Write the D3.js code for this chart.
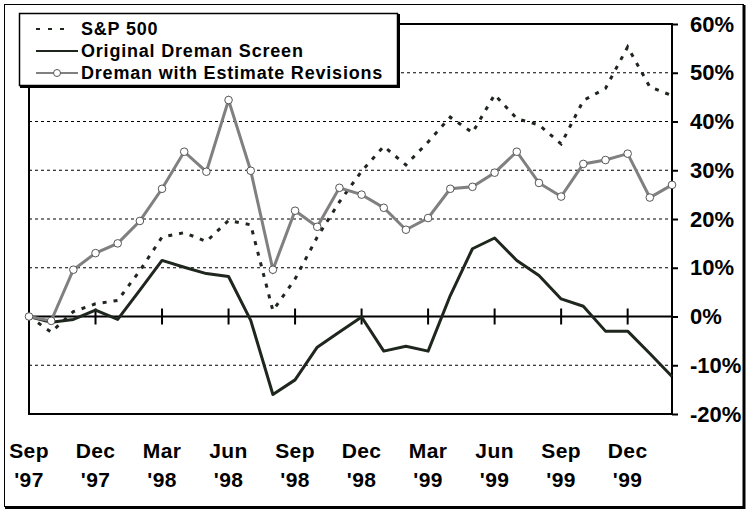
<!DOCTYPE html>
<html>
<head>
<meta charset="utf-8">
<script src="https://cdn.jsdelivr.net/npm/d3@7"></script>
<style>
  body { margin: 0; background: #fff; }
  svg { display: block; font-family: "Liberation Sans", Arial, sans-serif; font-weight: bold; }
</style>
</head>
<body>
<div id="chart"></div>
<script>
// monthly cumulative returns (%), Sep '97 .. Feb '00
var spValues = [0, -3.2, 1.0, 2.6, 3.3, 9.4, 16.3, 17.2, 15.4, 19.7, 18.8, 1.2, 7.7, 16.3, 23.5,
  29.8, 34.9, 31.1, 35.8, 40.9, 37.7, 45.5, 40.6, 39.3, 35.4, 44.3, 46.8, 55.3, 47.1, 45.3];
var originalValues = [0, -1.2, -0.6, 1.3, -0.6, 5.4, 11.5, 10.1, 8.8, 8.2, -0.8, -16.0, -13.0, -6.3, -3.2,
  -0.1, -7.1, -6.1, -7.1, 4.3, 13.9, 16.1, 11.5, 8.4, 3.6, 2.1, -3.0, -3.0, -7.6, -12.3];
var revisionValues = [0, -0.9, 9.6, 13.0, 15.0, 19.6, 26.2, 33.8, 29.7, 44.4, 29.9, 9.6, 21.7, 18.4, 26.4,
  25.0, 22.3, 17.8, 20.2, 26.2, 26.6, 29.5, 33.8, 27.4, 24.6, 31.3, 32.1, 33.4, 24.4, 27.0];

// quarter ticks: month index, month name, year
var tickIndex = [0, 3, 6, 9, 12, 15, 18, 21, 24, 27];
var tickMonths = ["Sep", "Dec", "Mar", "Jun", "Sep", "Dec", "Mar", "Jun", "Sep", "Dec"];
var tickYears = ["'97", "'97", "'98", "'98", "'98", "'98", "'99", "'99", "'99", "'99"];
var yTicks = [-20, -10, 0, 10, 20, 30, 40, 50, 60];
var seriesNames = ["S&P 500", "Original Dreman Screen", "Dreman with Estimate Revisions"];

var width = 750, height = 513;
var plotLeft = 29, plotRight = 672, plotTop = 24, plotBottom = 414;
var darkLine = "#1e261e", grayLine = "#808080";

var svg = d3.select("#chart").append("svg")
  .attr("width", width)
  .attr("height", height);

// outer frame with a heavier right/bottom edge
svg.append("rect")
  .attr("x", 4.5).attr("y", 4.5)
  .attr("width", 739).attr("height", 502)
  .attr("fill", "#fff").attr("stroke", "#000").attr("stroke-width", 1);
svg.append("path")
  .attr("d", "M744,5 V507.5 H5")
  .attr("fill", "none").attr("stroke", "#000").attr("stroke-width", 3);

var x = d3.scaleLinear().domain([0, spValues.length - 1]).range([plotLeft, plotRight]);
var y = d3.scaleLinear().domain([-20, 60]).range([plotBottom, plotTop]);

// dashed gridlines
svg.selectAll(".grid")
  .data(yTicks.filter(function(d) { return d > -20 && d < 60 && d != 0; }))
  .enter().append("line")
  .attr("x1", plotLeft).attr("x2", plotRight)
  .attr("y1", function(d) { return y(d); })
  .attr("y2", function(d) { return y(d); })
  .attr("stroke", "#000").attr("stroke-width", 1)
  .attr("stroke-dasharray", "3,3");

// plot frame
svg.append("rect")
  .attr("x", plotLeft).attr("y", plotTop)
  .attr("width", plotRight - plotLeft).attr("height", plotBottom - plotTop)
  .attr("fill", "none").attr("stroke", "#000").attr("stroke-width", 2);

// right axis with outward ticks
var yAxis = d3.axisRight(y)
  .tickValues(yTicks)
  .tickSize(6)
  .tickPadding(12)
  .tickFormat(function(d) { return d + "%"; });
var ya = svg.append("g")
  .attr("transform", "translate(" + plotRight + ",0)")
  .call(yAxis);
ya.select(".domain").remove();
ya.selectAll(".tick line").attr("stroke", "#000").attr("stroke-width", 2);
ya.selectAll(".tick text")
  .attr("fill", "#000")
  .style("font-size", "22px")
  .style("font-weight", "bold")
  .style("font-family", "'Liberation Sans', Arial, sans-serif");

// zero line with quarter ticks
svg.append("line")
  .attr("x1", plotLeft).attr("x2", plotRight)
  .attr("y1", y(0)).attr("y2", y(0))
  .attr("stroke", "#000").attr("stroke-width", 2);
svg.selectAll(".qtick")
  .data(tickIndex.slice(1))
  .enter().append("line")
  .attr("x1", function(d) { return x(d); })
  .attr("x2", function(d) { return x(d); })
  .attr("y1", y(0) - 8).attr("y2", y(0) + 8)
  .attr("stroke", "#000").attr("stroke-width", 2);

// x labels, two lines each
var xl = svg.selectAll(".xlab")
  .data(tickIndex)
  .enter().append("text")
  .attr("text-anchor", "middle")
  .style("font-size", "21px")
  .style("letter-spacing", "0.4px");
xl.append("tspan")
  .attr("x", function(d) { return x(d); })
  .attr("y", 458)
  .text(function(d, i) { return tickMonths[i]; });
xl.append("tspan")
  .attr("x", function(d) { return x(d); })
  .attr("y", 487)
  .text(function(d, i) { return tickYears[i]; });

var line = d3.line()
  .x(function(d, i) { return x(i); })
  .y(function(d) { return y(d); });

// S&P 500 dashed
svg.append("path")
  .datum(spValues)
  .attr("d", line)
  .attr("fill", "none")
  .attr("stroke", darkLine)
  .attr("stroke-width", 3)
  .attr("stroke-dasharray", "4,7");

// original screen
svg.append("path")
  .datum(originalValues)
  .attr("d", line)
  .attr("fill", "none")
  .attr("stroke", darkLine)
  .attr("stroke-width", 3)
  .attr("stroke-linejoin", "round");

// with estimate revisions
svg.append("path")
  .datum(revisionValues)
  .attr("d", line)
  .attr("fill", "none")
  .attr("stroke", grayLine)
  .attr("stroke-width", 3);
svg.selectAll(".marker")
  .data(revisionValues)
  .enter().append("circle")
  .attr("cx", function(d, i) { return x(i); })
  .attr("cy", function(d) { return y(d); })
  .attr("r", 3.8)
  .attr("fill", "#fff")
  .attr("stroke", "#555")
  .attr("stroke-width", 1);

// legend box
var lg = svg.append("g");
lg.append("rect")
  .attr("x", 19.5).attr("y", 13.5)
  .attr("width", 378).attr("height", 72)
  .attr("fill", "#fff").attr("stroke", "#000").attr("stroke-width", 1.5);
lg.append("path")
  .attr("d", "M398.5,14 V86.5 H20")
  .attr("fill", "none").attr("stroke", "#000").attr("stroke-width", 3);

var rowY = [29, 51, 73];
lg.append("line")
  .attr("x1", 36).attr("x2", 70).attr("y1", rowY[0]).attr("y2", rowY[0])
  .attr("stroke", darkLine).attr("stroke-width", 2).attr("stroke-dasharray", "4,8");
lg.append("line")
  .attr("x1", 36).attr("x2", 78).attr("y1", rowY[1]).attr("y2", rowY[1])
  .attr("stroke", darkLine).attr("stroke-width", 2);
lg.append("line")
  .attr("x1", 36).attr("x2", 78).attr("y1", rowY[2]).attr("y2", rowY[2])
  .attr("stroke", grayLine).attr("stroke-width", 2);
lg.append("circle")
  .attr("cx", 57).attr("cy", rowY[2]).attr("r", 3.5)
  .attr("fill", "#fff").attr("stroke", "#555").attr("stroke-width", 1);

lg.selectAll(".ltext")
  .data(seriesNames)
  .enter().append("text")
  .attr("x", 81)
  .attr("y", function(d, i) { return rowY[i] + 6; })
  .style("font-size", "18px")
  .style("letter-spacing", "0.8px")
  .text(function(d) { return d; });
</script>
</body>
</html>
